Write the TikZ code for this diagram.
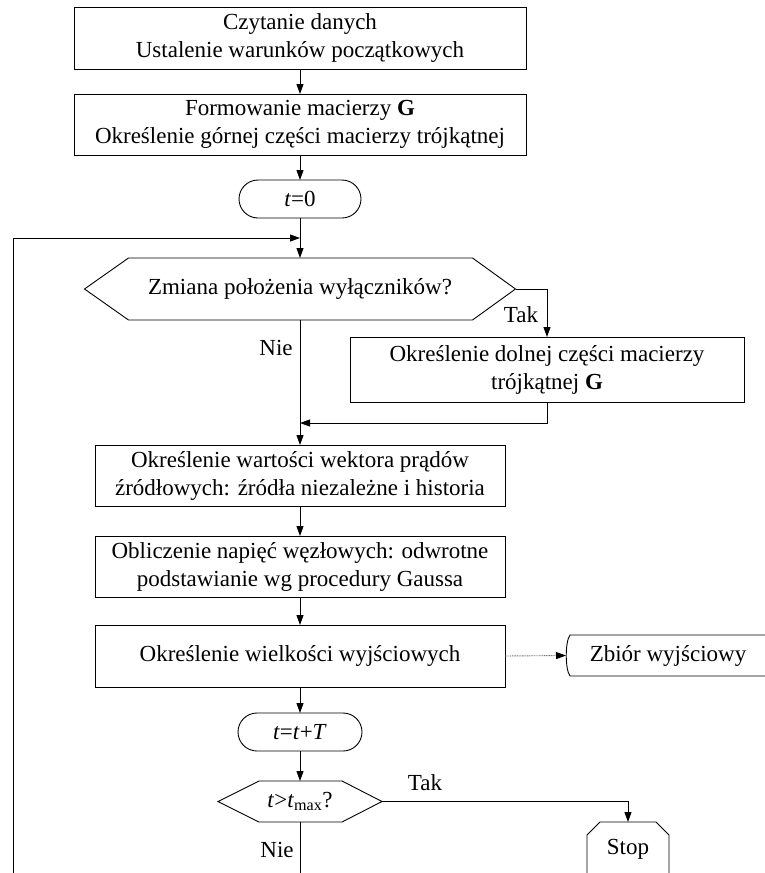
\documentclass[tikz,border=0pt]{standalone}
\usepackage{fontspec}
\setmainfont{Liberation Serif}
\usetikzlibrary{arrows.meta,calc}
\begin{document}
\begin{tikzpicture}[x=1pt,y=-1pt,
  every node/.style={font=\fontsize{23}{28}\selectfont, inner sep=0pt, outer sep=0pt},
  proc/.style={draw, line width=0.9pt, align=center, minimum width=410pt, minimum height=61pt},
  term/.style={draw, line width=0.9pt, rounded corners=19pt, minimum width=122pt, minimum height=38pt},
  hexnode/.style={align=center},
  lbl/.style={anchor=base},
  ln/.style={line width=0.9pt},
  arr/.style={line width=0.9pt, -{Triangle[length=10pt,width=7pt]}},
  dotarr/.style={draw=black!55, line width=0.9pt, dash pattern=on 1pt off 0.7pt, -{Triangle[length=10pt,width=7pt,color=black]}}
]
\useasboundingbox (0,0) rectangle (765,873);
\clip (0,0) rectangle (765,873);

% nodes
\node[proc, minimum width=452pt, minimum height=62pt] (b1) at (300,38) {Czytanie danych\\Ustalenie warunków początkowych};
\node[proc, minimum width=452pt, minimum height=61pt] (b2) at (300,124.5) {Formowanie macierzy \textbf{G}\\Określenie górnej części macierzy trójkątnej};
\node[term] (t0) at (300,199) {\textit{t}=0};
\coordinate (join) at (300,238);
\node[hexnode, minimum width=431pt, minimum height=62pt] (d1) at (300,289) {Zmiana położenia wyłączników?};
\node[proc, minimum width=394pt, minimum height=65pt] (b3) at (547,369.5) {Określenie dolnej części macierzy\\trójkątnej \textbf{G}};
\coordinate (merge) at (300,423);
\node[proc] (b4) at (300,475.5) {Określenie wartości wektora prądów\\źródłowych: źródła niezależne i historia};
\node[proc] (b5) at (300,566.5) {Obliczenie napięć węzłowych: odwrotne\\podstawianie wg procedury Gaussa};
\node[proc, minimum height=62pt] (b6) at (300,656) {Określenie wielkości wyjściowych};
\node[term, minimum width=124pt] (t1) at (300,732) {\textit{t}=\textit{t}+\textit{T}};
\node[hexnode, minimum width=164pt, minimum height=41pt] (d2) at (300,801.5) {\textit{t}>\textit{t}\textsubscript{max}?};
\node[minimum width=82pt, minimum height=54pt] (stop) at (628,849) {Stop};
\node[minimum width=204pt, minimum height=41pt] (zb) at (668,655.5) {Zbiór wyjściowy};
\coordinate (loopbot) at (13,895);

% shapes drawn around text nodes
\draw[ln] (d1.west) -- ($(d1.north west)+(44,0)$) -- ($(d1.north east)+(-43,0)$) -- (d1.east)
  -- ($(d1.south east)+(-43,0)$) -- ($(d1.south west)+(44,0)$) -- cycle;
\draw[ln] (d2.west) -- ($(d2.north west)+(41,0)$) -- ($(d2.north east)+(-40,0)$) -- (d2.east)
  -- ($(d2.south east)+(-40,0)$) -- ($(d2.south west)+(41,0)$) -- cycle;
\draw[ln] (stop.south west) -- ($(stop.north west)+(0,13)$) -- ($(stop.north west)+(13,0)$)
  -- ($(stop.north east)+(-13,0)$) -- ($(stop.north east)+(0,13)$) -- (stop.south east) -- cycle;
\draw[ln] ($(zb.north east)+(10,0)$) -- ($(zb.north west)+(4,0)$)
  .. controls ($(zb.west)+(-1,-14)$) and ($(zb.west)+(-1,14)$) .. ($(zb.south west)+(4,0)$)
  -- ($(zb.south east)+(10,0)$);

% connectors
\draw[arr] (b1.south) -- (b2.north);
\draw[arr] (b2.south) -- (t0.north);
\draw[arr] (t0.south) -- (d1.north);
\draw[arr] (d2.south) |- (loopbot) |- (join);
\draw[arr] (d1.east) -| (b3.north);
\draw[arr] (b3.south) |- (merge);
\draw[arr] (d1.south) -- (b4.north);
\draw[arr] (b4.south) -- (b5.north);
\draw[arr] (b5.south) -- (b6.north);
\draw[arr] (b6.south) -- (t1.north);
\draw[arr] (t1.south) -- (d2.north);
\draw[dotarr] (b6.east) -- (zb.west);
\draw[arr] (d2.east) -| (stop.north);

% labels
\node[lbl] (tak1) at (521,322) {Tak};
\node[lbl] (nie1) at (276,355) {Nie};
\node[lbl] (tak2) at (425,790) {Tak};
\node[lbl] (nie2) at (277,857) {Nie};
\end{tikzpicture}
\end{document}
